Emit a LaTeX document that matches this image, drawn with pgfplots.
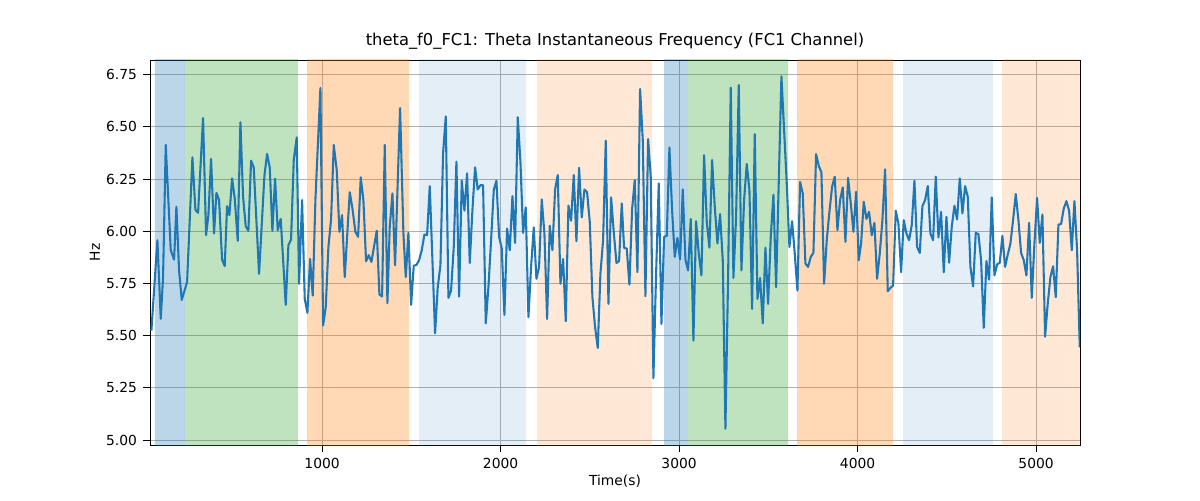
\documentclass[border=0pt]{standalone}
\usepackage{pgfplots}
\pgfplotsset{compat=1.18}
\usepackage{fontspec}
\setmainfont{DejaVu Sans}
\definecolor{cA}{HTML}{1F77B4}
\definecolor{cG}{HTML}{2CA02C}
\definecolor{cO}{HTML}{FF7F0E}
\definecolor{gridc}{HTML}{B0B0B0}
\begin{document}
\begin{tikzpicture}
\begin{axis}[
  scale only axis, width=558pt, height=231pt,
  xmin=36, xmax=5246, ymin=4.976, ymax=6.82,
  xtick={1000,2000,3000,4000,5000},
  ytick={5,5.25,5.5,5.75,6,6.25,6.5,6.75},
  yticklabel style={/pgf/number format/.cd,fixed,fixed zerofill,precision=2},
  /pgf/number format/assume math mode=true,
  tick label style={font=\fontsize{8.3}{10}\selectfont},
  label style={font=\fontsize{8.3}{10}\selectfont},
  title style={font=\fontsize{9.8}{12}\selectfont, yshift=-3pt},
  title={theta\_f0\_FC1: Theta Instantaneous Frequency (FC1 Channel)},
  xlabel={Time(s)}, ylabel={Hz},
  xlabel style={yshift=3pt}, ylabel style={yshift=-3pt},
  grid=major, grid style={color=gridc, line width=0.5pt},
  axis line style={line width=0.5pt},
  tick align=outside, tick style={black, line width=0.5pt},
  xtick pos=bottom, ytick pos=left,
  scaled x ticks=false, xticklabel style={/pgf/number format/1000 sep={}},
]
\addplot[fill=cA, fill opacity=0.3, draw=none] coordinates {(64,4.9) (232,4.9) (232,7) (64,7)} \closedcycle;
\addplot[fill=cG, fill opacity=0.3, draw=none] coordinates {(232,4.9) (865,4.9) (865,7) (232,7)} \closedcycle;
\addplot[fill=cO, fill opacity=0.3, draw=none] coordinates {(916,4.9) (1487,4.9) (1487,7) (916,7)} \closedcycle;
\addplot[fill=cA, fill opacity=0.12, draw=none] coordinates {(1543,4.9) (2143,4.9) (2143,7) (1543,7)} \closedcycle;
\addplot[fill=cO, fill opacity=0.17, draw=none] coordinates {(2204,4.9) (2849,4.9) (2849,7) (2204,7)} \closedcycle;
\addplot[fill=cA, fill opacity=0.3, draw=none] coordinates {(2916,4.9) (3045,4.9) (3045,7) (2916,7)} \closedcycle;
\addplot[fill=cG, fill opacity=0.3, draw=none] coordinates {(3045,4.9) (3611,4.9) (3611,7) (3045,7)} \closedcycle;
\addplot[fill=cO, fill opacity=0.3, draw=none] coordinates {(3661,4.9) (4199,4.9) (4199,7) (3661,7)} \closedcycle;
\addplot[fill=cA, fill opacity=0.12, draw=none] coordinates {(4255,4.9) (4759,4.9) (4759,7) (4255,7)} \closedcycle;
\addplot[fill=cO, fill opacity=0.17, draw=none] coordinates {(4809,4.9) (5246,4.9) (5246,7) (4809,7)} \closedcycle;
\addplot[cA, line width=1.25pt, no marks, line join=round] table {
43.9 5.524
77.5 5.957
96.2 5.580
109.2 5.780
124.2 6.413
152.2 5.909
170.9 5.864
183.9 6.117
198.9 5.812
213.8 5.671
243.7 5.756
273.6 6.354
290.4 6.101
305.3 6.088
333.3 6.542
350.1 5.981
363.2 6.077
378.1 6.346
394.9 5.989
408.0 6.184
423.0 6.149
439.8 5.864
454.7 5.833
467.8 6.120
480.9 6.077
495.8 6.253
510.7 6.157
527.5 5.954
542.5 6.522
557.4 6.165
572.3 6.024
587.3 6.002
602.2 6.338
617.2 6.306
647.0 5.796
676.9 6.264
691.9 6.370
706.8 6.306
721.7 6.002
736.7 6.252
751.6 6.005
768.4 6.059
796.4 5.647
811.4 5.933
826.3 5.960
841.3 6.341
858.0 6.449
871.1 5.748
888.0 6.149
902.9 5.676
917.8 5.609
932.8 5.867
947.7 5.692
962.6 6.149
990.7 6.686
1005.6 5.548
1020.5 5.636
1035.5 5.925
1050.4 6.056
1065.4 6.413
1082.1 6.293
1097.1 5.997
1112.0 6.077
1127.0 5.780
1155.0 6.187
1170.0 6.109
1186.7 5.997
1201.7 5.973
1216.6 6.258
1231.5 6.149
1246.5 5.856
1261.4 5.885
1276.4 5.853
1306.3 6.002
1321.2 5.697
1336.2 5.687
1351.1 6.413
1366.0 5.655
1379.1 6.021
1394.1 6.181
1409.0 5.837
1437.0 6.590
1455.7 5.989
1468.8 5.780
1483.7 5.992
1498.7 5.647
1513.6 5.835
1528.5 5.838
1543.5 5.861
1558.4 5.909
1573.4 5.984
1588.3 5.981
1603.2 6.216
1618.2 5.861
1633.1 5.511
1648.0 5.732
1663.0 5.837
1677.9 6.373
1692.9 6.550
1707.8 5.681
1722.7 5.716
1737.7 5.925
1752.6 6.333
1767.6 5.687
1782.5 6.242
1797.4 6.098
1812.4 6.277
1827.3 5.848
1842.3 6.101
1857.2 6.306
1872.1 6.200
1887.1 6.220
1902.0 6.220
1917.0 5.559
1931.9 5.732
1946.8 5.957
1961.8 6.197
1976.7 6.242
1991.7 5.973
2006.6 5.917
2021.5 5.599
2036.5 6.013
2051.4 5.909
2066.4 6.168
2081.3 5.944
2096.2 6.546
2111.2 6.333
2126.1 5.992
2141.0 6.114
2156.0 5.588
2170.9 5.829
2185.9 6.018
2200.8 5.772
2215.7 5.829
2230.7 6.152
2245.6 5.989
2260.6 5.580
2275.5 6.026
2290.4 5.909
2305.4 6.200
2320.3 6.269
2335.3 5.748
2350.2 5.867
2365.1 5.569
2380.1 6.123
2395.0 6.050
2410.0 6.269
2424.9 5.952
2439.8 6.304
2454.8 6.066
2469.7 6.200
2484.6 6.187
2499.6 6.045
2514.5 5.684
2529.5 5.540
2544.4 5.441
2559.3 5.796
2574.3 5.957
2589.2 6.434
2604.2 5.652
2619.1 6.162
2634.0 5.997
2649.0 5.848
2663.9 5.857
2678.9 6.133
2691.9 5.920
2706.8 5.917
2721.8 5.744
2736.7 6.104
2751.7 6.245
2766.6 5.804
2781.5 6.681
2796.5 6.437
2811.4 5.689
2826.4 6.441
2841.3 6.261
2856.2 5.296
2871.2 5.796
2886.1 6.229
2901.1 5.556
2916.0 5.973
2930.9 5.978
2945.9 6.401
2960.8 6.101
2975.8 5.877
2990.7 5.968
3005.6 5.865
3020.6 6.200
3035.5 5.864
3050.5 5.812
3065.4 6.059
3080.3 5.476
3095.3 6.048
3110.2 5.893
3125.2 5.788
3140.1 6.364
3155.0 6.045
3170.0 5.921
3184.9 6.341
3199.9 6.117
3214.8 5.941
3229.7 6.082
3244.7 5.861
3259.6 5.054
3274.6 5.780
3289.5 6.687
3304.4 5.776
3319.4 6.069
3334.3 6.700
3349.2 5.812
3364.2 6.149
3379.1 6.322
3394.1 6.197
3409.0 5.628
3423.9 6.465
3438.9 5.676
3453.8 5.776
3468.8 5.559
3483.7 5.921
3498.6 5.652
3513.6 5.973
3528.5 6.175
3543.5 5.732
3573.3 6.742
3603.2 6.229
3618.1 5.925
3633.1 6.048
3648.0 5.893
3663.0 5.716
3677.9 6.236
3692.8 6.181
3707.8 5.845
3722.7 5.829
3737.7 5.877
3752.6 5.896
3767.5 6.369
3782.5 6.313
3797.4 6.282
3812.4 5.748
3827.3 5.957
3842.2 6.093
3857.2 6.213
3872.1 6.261
3887.1 6.005
3902.0 6.149
3916.9 6.210
3931.9 5.949
3946.8 6.256
3961.8 6.133
3976.7 5.997
3991.6 6.189
4006.6 5.861
4019.6 5.941
4034.6 6.141
4049.5 6.059
4064.4 6.093
4079.4 5.981
4094.3 6.040
4109.2 5.772
4124.2 5.893
4139.1 6.053
4154.1 6.296
4169.0 5.713
4183.9 5.729
4198.9 5.739
4213.8 6.098
4228.8 6.037
4243.7 5.804
4258.6 6.053
4273.6 5.989
4288.5 5.957
4303.5 6.029
4318.4 6.242
4333.3 5.925
4348.3 5.896
4363.2 6.120
4378.2 6.149
4393.1 6.216
4408.0 5.989
4423.0 5.957
4437.9 6.261
4452.9 5.970
4467.8 6.093
4482.7 5.803
4497.7 6.069
4512.6 5.849
4527.5 6.021
4542.5 6.122
4557.4 6.056
4572.4 6.253
4587.3 6.085
4602.2 6.216
4617.2 6.165
4632.1 5.829
4647.1 5.735
4662.0 5.992
4676.9 5.986
4691.9 5.861
4706.8 5.537
4721.8 5.857
4736.7 5.768
4751.6 6.162
4766.6 5.788
4781.5 5.841
4796.5 5.849
4811.4 5.978
4826.3 5.829
4841.3 5.888
4856.2 5.941
4871.1 6.053
4886.1 6.178
4901.0 6.053
4916.0 5.896
4930.9 5.861
4945.8 5.788
4960.8 6.040
4975.7 5.681
4990.7 5.941
5005.6 6.160
5020.5 5.944
5035.5 6.080
5050.4 5.495
5065.4 5.655
5080.3 5.780
5095.2 5.832
5110.2 5.684
5125.1 6.032
5140.1 6.034
5155.0 6.109
5169.9 6.144
5184.9 6.098
5199.8 5.909
5214.8 6.144
5229.7 5.909
5244.6 5.444
};
\end{axis}
\useasboundingbox (current axis.south west) ++(-90pt,-33pt) rectangle ++(720pt,300pt);
\end{tikzpicture}
\end{document}
